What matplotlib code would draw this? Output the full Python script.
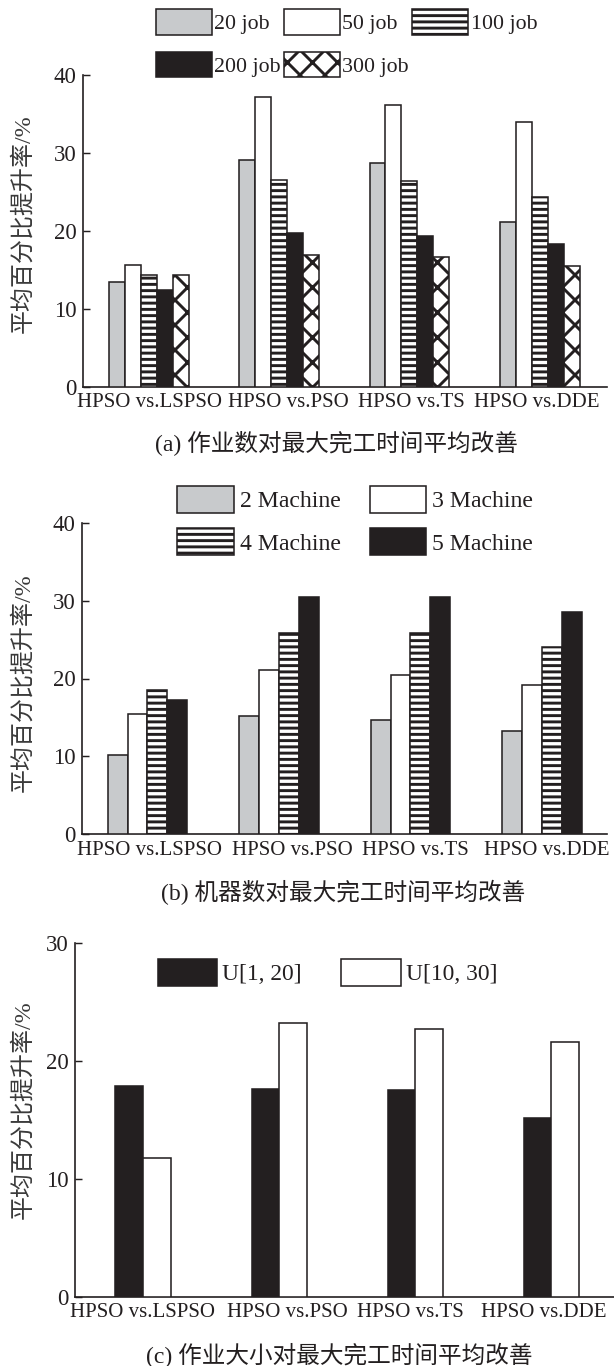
import matplotlib
matplotlib.use('Agg')
import matplotlib.pyplot as plt
from matplotlib.transforms import ScaledTranslation
import numpy as np

plt.rcParams['font.family'] = ['Liberation Serif', 'Noto Sans CJK SC']
plt.rcParams['hatch.linewidth'] = 2.8
plt.rcParams['axes.unicode_minus'] = False

# ---------------- data ----------------
categories = ['HPSO vs.LSPSO', 'HPSO vs.PSO', 'HPSO vs.TS', 'HPSO vs.DDE']

# (a) number of jobs
job_labels = ['20 job', '50 job', '100 job', '200 job', '300 job']
job_20 = [13.5, 29.1, 28.7, 21.2]
job_50 = [15.7, 37.2, 36.1, 34.0]
job_100 = [14.4, 26.5, 26.4, 24.3]
job_200 = [12.4, 19.8, 19.3, 18.3]
job_300 = [14.4, 16.9, 16.7, 15.5]

# (b) number of machines
machine_labels = ['2 Machine', '3 Machine', '4 Machine', '5 Machine']
machine_2 = [10.2, 15.2, 14.7, 13.3]
machine_3 = [15.4, 21.1, 20.5, 19.2]
machine_4 = [18.5, 25.9, 25.8, 24.0]
machine_5 = [17.3, 30.5, 30.5, 28.6]

# (c) job size
size_labels = ['U[1, 20]', 'U[10, 30]']
size_1_20 = [17.9, 17.6, 17.55, 15.2]
size_10_30 = [11.75, 23.2, 22.7, 21.6]

ylabel_text = '平均百分比提升率/%'
captions = ['(a) 作业数对最大完工时间平均改善',
            '(b) 机器数对最大完工时间平均改善',
            '(c) 作业大小对最大完工时间平均改善']

# ---------------- styles ----------------
W, H, DPI = 614, 1366, 75
BLACK = '#231f20'
GRAY = '#c8cacc'
STY = {
    'gray': dict(facecolor=GRAY, hatch=None),
    'white': dict(facecolor='white', hatch=None),
    'stripe': dict(facecolor='white', hatch='--'),
    'black': dict(facecolor=BLACK, hatch=None),
    'cross': dict(facecolor='white', hatch='x'),
}

fig = plt.figure(figsize=(W / DPI, H / DPI), dpi=DPI)


def rect(left, right, top, bottom):
    return [left / W, 1 - bottom / H, (right - left) / W, (bottom - top) / H]


def make_axes(r, xlim, ylim, yticks, label_shift):
    ax = fig.add_axes(r)
    ax.set_xlim(*xlim)
    ax.set_ylim(*ylim)
    for s in ['top', 'right']:
        ax.spines[s].set_visible(False)
    for s in ['left', 'bottom']:
        ax.spines[s].set_linewidth(1.6)
        ax.spines[s].set_color(BLACK)
    ax.set_yticks(yticks)
    ax.set_yticklabels([str(v) for v in yticks])
    ax.tick_params(axis='y', direction='in', length=6.7, width=1.4,
                   pad=6, labelsize=22, colors=BLACK)
    x = np.arange(len(categories))
    ax.set_xticks(x)
    ax.set_xticklabels(categories)
    ax.tick_params(axis='x', length=0, pad=6, labelsize=20, colors=BLACK)
    for lbl, dx in zip(ax.get_xticklabels(), label_shift):
        lbl.set_transform(lbl.get_transform() +
                          ScaledTranslation(dx / DPI, 0, fig.dpi_scale_trans))
    return ax


def draw_bars(ax, series, styles, width):
    x = np.arange(len(categories))
    n = len(series)
    bars = []
    for i, (vals, st) in enumerate(zip(series, styles)):
        b = ax.bar(x + (i - (n - 1) / 2) * width, vals, width,
                   facecolor=STY[st]['facecolor'], hatch=STY[st]['hatch'],
                   edgecolor=BLACK, linewidth=1.5, zorder=3)
        bars.append(b)
    return bars


# ---------------- (a) ----------------
axa = make_axes(rect(83, 607, 75, 387), (-0.505, 3.516), (0, 40),
                [0, 10, 20, 30, 40], [1, 9, 1.5, -3])
ba = draw_bars(axa, [job_20, job_50, job_100, job_200, job_300],
               ['gray', 'white', 'stripe', 'black', 'cross'], 0.1225)
order = [0, 3, 1, 4, 2]
fig.legend([ba[i] for i in order], [job_labels[i] for i in order],
           loc='upper left', bbox_to_anchor=(156 / W, 1 - 9.3 / H), ncol=3,
           frameon=False, fontsize=21, handlelength=2.57, handleheight=1.41,
           handletextpad=0.1, columnspacing=0.14, labelspacing=0.77,
           borderpad=0, borderaxespad=0, labelcolor=BLACK)

# ---------------- (b) ----------------
axb = make_axes(rect(82, 607, 522.7, 834.3), (-0.497, 3.494), (0, 40),
                [0, 10, 20, 30, 40], [2, 13, 4.5, 4.5])
bb = draw_bars(axb, [machine_2, machine_3, machine_4, machine_5],
               ['gray', 'white', 'stripe', 'black'], 0.151)
order = [0, 2, 1, 3]
fig.legend([bb[i] for i in order], [machine_labels[i] for i in order],
           loc='upper left', bbox_to_anchor=(177.4 / W, 1 - 486 / H), ncol=2,
           frameon=False, fontsize=22.8, handlelength=2.39, handleheight=1.34,
           handletextpad=0.23, columnspacing=1.23, labelspacing=0.67,
           borderpad=0, borderaxespad=0, labelcolor=BLACK)

# ---------------- (c) ----------------
axc = make_axes(rect(75.2, 614, 943.3, 1296.7), (-0.499, 3.46), (0, 30),
                [0, 10, 20, 30], [-1, 8.5, -4.5, -8])
bc = draw_bars(axc, [size_1_20, size_10_30], ['black', 'white'], 0.203)
fig.legend(bc, size_labels,
           loc='upper left', bbox_to_anchor=(157.8 / W, 1 - 959 / H), ncol=2,
           frameon=False, fontsize=22.5, handlelength=2.54, handleheight=1.37,
           handletextpad=0.21, columnspacing=1.68,
           borderpad=0, borderaxespad=0, labelcolor=BLACK)

# ---------------- labels & captions ----------------
for yc in [224, 683, 1110]:
    fig.text(23.5 / W, 1 - yc / H, ylabel_text, rotation=90, ha='center',
             va='center', fontsize=23, color='#3a3a3a')

for (xc, yc), cap in zip([(336, 443), (343.6, 892), (338.8, 1355)], captions):
    fig.text(xc / W, 1 - yc / H, cap, ha='center', va='center',
             fontsize=22.7, color=BLACK)

fig.savefig('out.png', dpi=DPI)
